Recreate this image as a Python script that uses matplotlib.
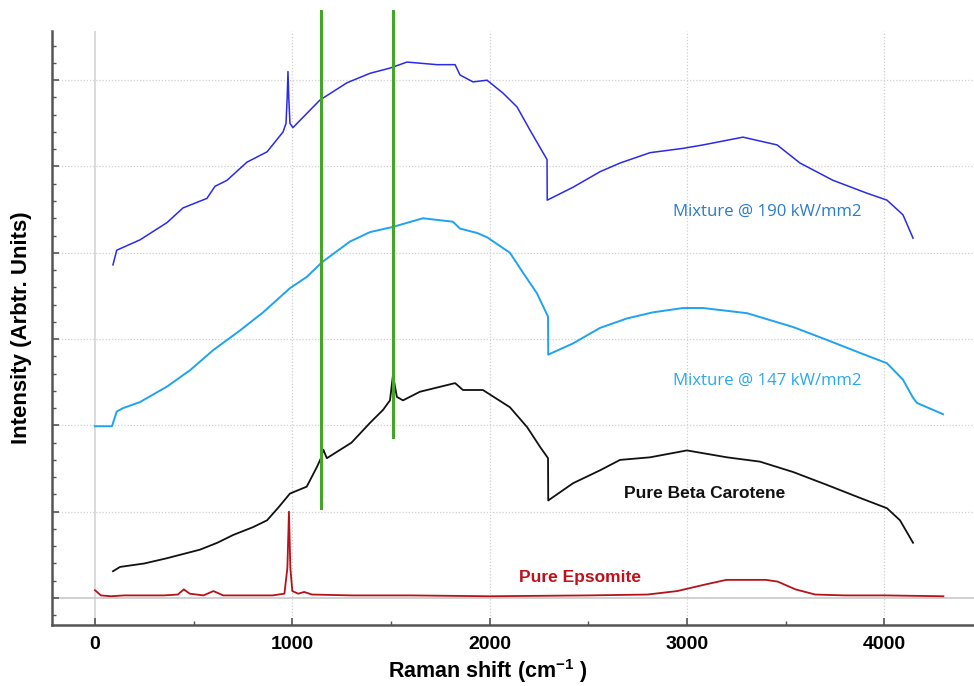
import matplotlib
matplotlib.use("Agg")
import matplotlib.pyplot as plt
from matplotlib.ticker import MultipleLocator

plt.rcParams['font.family'] = ['Liberation Sans', 'DejaVu Sans']
plt.rcParams['mathtext.fontset'] = 'custom'
plt.rcParams['mathtext.rm'] = 'Liberation Sans:bold'
plt.rcParams['mathtext.default'] = 'rm'

# ---------------- data ----------------
epsomite_x = [0, 30, 80, 150, 250, 350, 420, 450, 480, 550, 600, 620, 650, 750, 900, 960, 975, 983, 990, 1000,
              1030, 1060, 1100, 1300, 1600, 2000, 2500, 2800, 2950, 3100, 3200, 3300, 3400, 3460, 3550, 3650,
              3800, 4000, 4300]
epsomite_y = [0.09, 0.03, 0.02, 0.03, 0.03, 0.03, 0.04, 0.10, 0.05, 0.03, 0.08, 0.06, 0.03, 0.03, 0.03, 0.05,
              0.35, 1.00, 0.35, 0.08, 0.05, 0.07, 0.04, 0.03, 0.03, 0.02, 0.03, 0.04, 0.08, 0.16, 0.21, 0.21,
              0.21, 0.19, 0.10, 0.04, 0.03, 0.03, 0.02]

carotene_x = [91, 127, 250, 363, 532, 620, 700, 800, 872, 930, 988, 1073, 1125, 1145, 1157, 1175, 1300, 1394,
              1460, 1495, 1510, 1530, 1561, 1647, 1825, 1865, 1966, 2103, 2190, 2256, 2296, 2297, 2423, 2560,
              2661, 2813, 3000, 3203, 3370, 3538, 3710, 3877, 4014, 4080, 4146]
carotene_y = [0.31, 0.36, 0.40, 0.46, 0.56, 0.64, 0.73, 0.82, 0.90, 1.05, 1.21, 1.29, 1.52, 1.62, 1.72, 1.62,
              1.80, 2.03, 2.18, 2.29, 2.58, 2.33, 2.29, 2.39, 2.49, 2.41, 2.41, 2.21, 1.98, 1.75, 1.62, 1.13,
              1.33, 1.48, 1.60, 1.63, 1.71, 1.63, 1.58, 1.46, 1.31, 1.16, 1.04, 0.90, 0.64]

mix147_x = [0, 86, 110, 142, 228, 365, 482, 598, 735, 852, 988, 1073, 1150, 1292, 1394, 1510, 1662, 1814,
            1850, 1936, 1987, 2103, 2169, 2240, 2296, 2297, 2423, 2560, 2697, 2828, 2980, 3082, 3305, 3538,
            3710, 3877, 4014, 4095, 4146, 4166, 4298]
mix147_y = [1.99, 1.99, 2.16, 2.20, 2.27, 2.45, 2.64, 2.87, 3.10, 3.31, 3.59, 3.72, 3.89, 4.13, 4.24, 4.30,
            4.40, 4.36, 4.28, 4.23, 4.18, 4.00, 3.77, 3.53, 3.26, 2.82, 2.95, 3.13, 3.24, 3.31, 3.36, 3.36,
            3.30, 3.14, 2.99, 2.84, 2.72, 2.53, 2.32, 2.26, 2.13]

mix190_x = [91, 110, 228, 365, 446, 567, 608, 669, 770, 872, 953, 968, 974, 978, 982, 988, 1003, 1140, 1277,
            1394, 1495, 1581, 1733, 1825, 1850, 1916, 1987, 2068, 2139, 2205, 2291, 2292, 2423, 2560, 2661,
            2813, 2980, 3082, 3284, 3457, 3573, 3740, 3913, 4014, 4095, 4146]
mix190_y = [3.86, 4.03, 4.15, 4.35, 4.52, 4.63, 4.77, 4.84, 5.05, 5.17, 5.40, 5.50, 5.80, 6.10, 5.80, 5.50,
            5.45, 5.77, 5.97, 6.08, 6.14, 6.21, 6.18, 6.18, 6.06, 5.98, 6.00, 5.85, 5.69, 5.42, 5.08, 4.61,
            4.76, 4.94, 5.04, 5.16, 5.21, 5.25, 5.34, 5.25, 5.04, 4.84, 4.69, 4.61, 4.44, 4.17]

marker_x = [1145, 1510]
marker_top = [6.80, 6.80]
marker_bottom = [1.04, 1.87]

labels = ["Mixture @ 190 kW/mm2", "Mixture @ 147 kW/mm2", "Pure Beta Carotene", "Pure Epsomite"]
label_x = [2930, 2930, 2680, 2150]
label_y = [4.48, 2.52, 1.21, 0.24]

x_ticks = [0, 1000, 2000, 3000, 4000]

# ---------------- figure ----------------
fig = plt.figure(figsize=(9.74, 6.86), dpi=100)
ax = fig.add_axes([52 / 974, 61 / 686, 922 / 974, 594 / 686])
ax.set_xlim(-218, 4455)
ax.set_ylim(-0.313, 6.57)

# grid
for gx in x_ticks:
    if gx == 0:
        ax.axvline(gx, color='#d4d4d4', lw=1.2, zorder=0)
    else:
        ax.axvline(gx, color='#d0d0d0', lw=0.9, ls=(0, (1, 1.5)), zorder=0)
for gy in range(0, 7):
    if gy == 0:
        ax.axhline(gy, color='#c8c8c8', lw=1.2, zorder=0)
    else:
        ax.axhline(gy, color='#d0d0d0', lw=0.9, ls=(0, (1, 1.5)), zorder=0)

ax.plot(epsomite_x, epsomite_y, color='#b5121b', lw=1.3)
ax.plot(carotene_x, carotene_y, color='#111111', lw=1.3)
ax.plot(mix147_x, mix147_y, color='#1fa3ef', lw=1.4)
ax.plot(mix190_x, mix190_y, color='#2a2ae8', lw=1.1)

for mx, mt, mb in zip(marker_x, marker_top, marker_bottom):
    ax.plot([mx, mx], [mb, mt], color='#44a52a', lw=2.2, clip_on=False, zorder=5)

label_colors = ['#2b7bc9', '#2aa8ee', '#111111', '#c0101a']
label_weights = ['normal', 'normal', 'bold', 'bold']
label_fams = ['Open Sans', 'Open Sans', 'Liberation Sans', 'Liberation Sans']
label_sizes = [12.1, 12.1, 12.5, 12.5]
for t, lx, ly, c, w, f, s in zip(labels, label_x, label_y, label_colors, label_weights, label_fams, label_sizes):
    ax.text(lx, ly, t, color=c, fontsize=s, fontweight=w, family=f, va='center', ha='left')

# spines and ticks
for s in ['top', 'right']:
    ax.spines[s].set_visible(False)
for s in ['left', 'bottom']:
    ax.spines[s].set_color('#555555')
    ax.spines[s].set_linewidth(1.8)

ax.set_xticks(x_ticks)
ax.set_xticklabels([str(v) for v in x_ticks], fontsize=14, fontweight='bold')
ax.xaxis.set_minor_locator(MultipleLocator(500))
ax.set_yticks(range(0, 7))
ax.set_yticklabels([])
ax.yaxis.set_minor_locator(MultipleLocator(0.2))
ax.tick_params(axis='both', which='major', direction='in', length=5, width=1.2, color='#555555', pad=8)
ax.tick_params(axis='both', which='minor', direction='in', length=3, width=1.0, color='#555555')

ax.set_xlabel(r'Raman shift (cm$^{-1}$ )', fontsize=15.5, fontweight='bold', va='center')
ax.xaxis.set_label_coords((488 - 52) / 922, (625 - 671) / 594)
ax.set_ylabel('Intensity (Arbtr. Units)', fontsize=16, fontweight='bold', va='center')
ax.yaxis.set_label_coords((22 - 52) / 922, 0.5)

fig.savefig('out.png', dpi=100)
